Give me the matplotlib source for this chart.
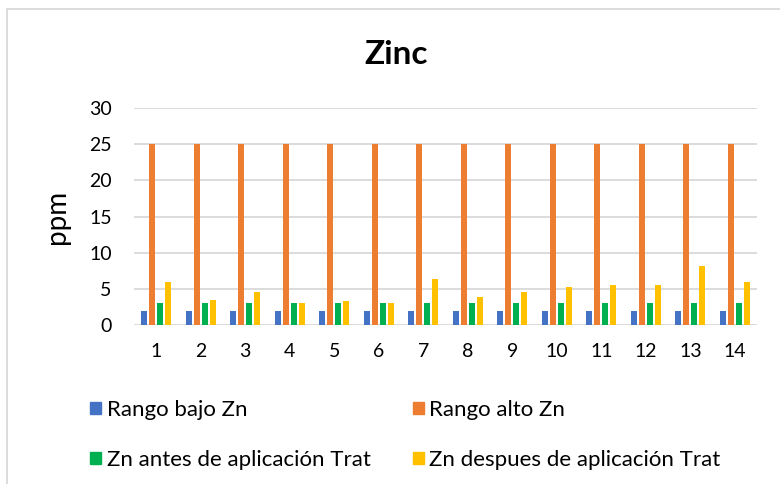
import matplotlib.pyplot as plt
import matplotlib.patches as mpatches
import numpy as np

# ── Data ─────────────────────────────────────────────────────────────────────
muestras = [str(i) for i in range(1, 15)]
rango_bajo = [2] * 14
rango_alto = [25] * 14
zn_antes = [3.1] * 14
zn_despues = [5.9, 3.4, 4.5, 3.1, 3.3, 3.0, 6.4, 3.9, 4.5, 5.2, 5.6, 5.5, 8.1, 6.0]

series = [
    ('Rango bajo Zn', rango_bajo, '#4472C4'),
    ('Rango alto Zn', rango_alto, '#ED7D31'),
    ('Zn antes de aplicación Trat', zn_antes, '#00B050'),
    ('Zn despues de aplicación Trat', zn_despues, '#FFC000'),
]

# ── Style ────────────────────────────────────────────────────────────────────
plt.rcParams['font.family'] = ['Lato', 'DejaVu Sans']

fig = plt.figure(figsize=(7.8, 4.84), dpi=100)
ax = fig.add_axes([0.1718, 0.3285, 0.799, 0.448])

x = np.arange(len(muestras))
step = 0.18
width = 0.135
for i, (name, vals, color) in enumerate(series):
    ax.bar(x + (i - 1.5) * step, vals, width=width, color=color, label=name, zorder=3)

ax.set_xlim(-0.5, len(muestras) - 0.5)
ax.set_ylim(0, 30)
ax.set_yticks(range(0, 31, 5))
ax.set_xticks(x)
ax.set_xticklabels(muestras)
ax.tick_params(length=0, labelsize=14, colors='#000000')
ax.tick_params(axis='x', pad=13)
ax.tick_params(axis='y', pad=16)
ax.grid(axis='y', color='#d9d9d9', linewidth=1.3, zorder=0)
for s in ax.spines.values():
    s.set_visible(False)

ax.set_ylabel('ppm', fontsize=20, labelpad=14)
fig.text(0.508, 0.888, 'Zinc', ha='center', va='center', fontsize=24, fontweight='bold')

# legend filled row by row: bajo, alto / antes, despues
handles = [mpatches.Patch(color=c, label=n) for n, _, c in series]
order = [0, 2, 1, 3]
fig.legend(handles=[handles[k] for k in order], loc='upper left',
           bbox_to_anchor=(90 / 780, 1 - 400 / 484), ncol=2,
           frameon=False, fontsize=16, handlelength=0.5, handleheight=0.5,
           handletextpad=0.25, columnspacing=1.9, labelspacing=1.35,
           borderpad=0, borderaxespad=0)

# chart border
fig.patches.append(mpatches.Rectangle((0.009, -0.05), 1.1, 1.031, transform=fig.transFigure,
                                      fill=False, edgecolor='#d9d9d9', linewidth=1.3))

plt.savefig('out.png', dpi=100)
plt.close()
